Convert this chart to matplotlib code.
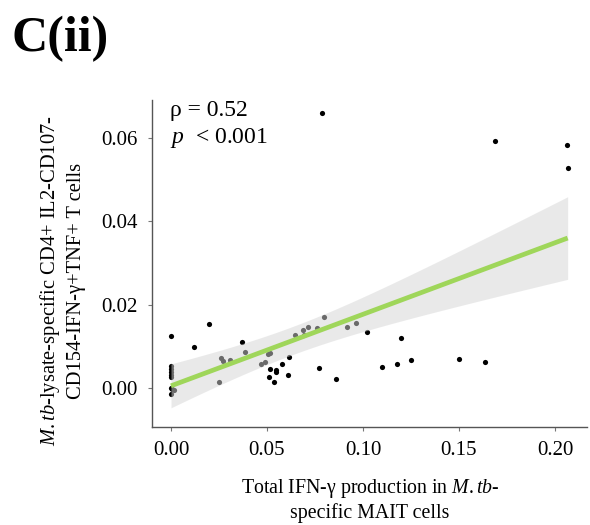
import numpy as np
import matplotlib
matplotlib.use("Agg")
import matplotlib.pyplot as plt

plt.rcParams['font.family'] = ['Liberation Serif', 'DejaVu Serif']
plt.rcParams['mathtext.fontset'] = 'custom'
plt.rcParams['mathtext.rm'] = 'Liberation Serif'
plt.rcParams['mathtext.it'] = 'Liberation Serif:italic'

# MAIT IFN-g production (x) vs. CD4+ polyfunctional T cell frequency (y)
mait_ifng = [
    0.0785, 0.1688, 0.2061, 0.2066, 0.0200, 0.0000, 0.0118, 0.1019,
    0.1198, 0.1248, 0.1498, 0.1637, 0.1175, 0.1099, 0.0859, 0.0769,
    0.0616, 0.0578, 0.0609, 0.0549, 0.0547, 0.0516, 0.0509, 0.0535,
    0.0000, 0.0000, 0.0000, 0.0000, 0.0000, 0.0000, 0.0000,
    0.0248, 0.0259, 0.0269, 0.0307, 0.0370, 0.0387, 0.0470, 0.0490,
    0.0503, 0.0516, 0.0648, 0.0689, 0.0693, 0.0715, 0.0759, 0.0799,
    0.0918, 0.0964, 0.0017, 0.0007,
]
cd4_tnf = [
    0.0661, 0.0593, 0.0584, 0.0527, 0.0154, 0.0125, 0.0098, 0.0135,
    0.0120, 0.0067, 0.0070, 0.0062, 0.0057, 0.0049, 0.0022, 0.0047,
    0.0074, 0.0057, 0.0032, 0.0042, 0.0038, 0.0046, 0.0025, 0.0013,
    0.0052, 0.0045, 0.0038, 0.0031, 0.0026, 0.0000, -0.0014,
    0.0015, 0.0072, 0.0065, 0.0066, 0.0109, 0.0087, 0.0058, 0.0062,
    0.0081, 0.0084, 0.0128, 0.0140, 0.0126, 0.0147, 0.0144, 0.0170,
    0.0146, 0.0156, -0.0006, -0.0003,
]
rho_text = "ρ = 0.52"
p_text = r"$p$  < 0.001"

x_ticks = [0.00, 0.05, 0.10, 0.15, 0.20]
y_ticks = [0.00, 0.02, 0.04, 0.06]

x = np.array(mait_ifng)
y = np.array(cd4_tnf)

# ordinary least squares fit with 95% confidence band
n = len(x)
slope, intercept = np.polyfit(x, y, 1)
resid = y - (intercept + slope * x)
s = np.sqrt(np.sum(resid ** 2) / (n - 2))
t_crit = 2.01
xs = np.linspace(x.min(), x.max(), 200)
fit = intercept + slope * xs
se = s * np.sqrt(1.0 / n + (xs - x.mean()) ** 2 / np.sum((x - x.mean()) ** 2))

fig = plt.figure(figsize=(5.9, 5.25), dpi=100)
ax = fig.add_axes([0.2576, 0.1867, 0.7374, 0.6228])

ax.scatter(x, y, s=14, color='black', linewidths=0, zorder=2)
ax.fill_between(xs, fit - t_crit * se, fit + t_crit * se,
                color='#d5d5d5', alpha=0.5, linewidth=0, zorder=3)
ax.plot(xs, fit, color='#9fd65a', linewidth=3.4, zorder=4,
        solid_capstyle='butt')

ax.set_xlim(-0.0099, 0.2167)
ax.set_ylim(-0.0094, 0.0691)
ax.set_xticks(x_ticks)
ax.set_xticklabels([f"{v:.2f}" for v in x_ticks])
ax.set_yticks(y_ticks)
ax.set_yticklabels([f"{v:.2f}" for v in y_ticks])

for side in ('top', 'right'):
    ax.spines[side].set_visible(False)
for side in ('left', 'bottom'):
    ax.spines[side].set_color('#555555')
    ax.spines[side].set_linewidth(1.0)
ax.tick_params(axis='both', length=3, width=0.8, color='#777777',
               labelsize=15, labelcolor='black', pad=7)

ax.text(0.041, 0.951, rho_text, transform=ax.transAxes, fontsize=17,
        ha='left', va='baseline')
ax.text(0.041, 0.868, p_text, transform=ax.transAxes, fontsize=17,
        ha='left', va='baseline')

fig.text(0.627, 0.048, "Total IFN-γ production in $\\mathit{M.tb}$-\nspecific MAIT cells",
         ha='center', va='center', fontsize=14.3, linespacing=1.2)
fig.text(0.105, 0.465,
         "$\\mathit{M.tb}$-lysate-specific CD4+ IL2-CD107-\nCD154-IFN-γ+TNF+ T cells",
         ha='center', va='center', rotation=90, fontsize=14.8, linespacing=1.3)

fig.text(0.02, 0.97, "C(ii)", fontsize=36, fontweight='bold',
         ha='left', va='top')

fig.savefig("out.png", dpi=100)
